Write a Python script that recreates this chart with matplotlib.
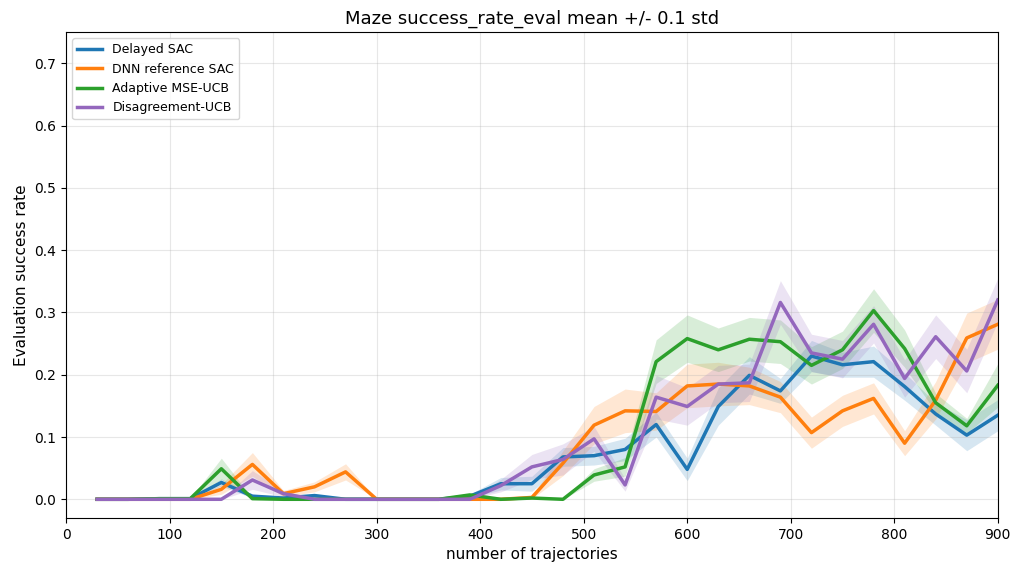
import numpy as np
import matplotlib.pyplot as plt

trajectories = np.arange(30, 901, 30)

delayed_mean = [0, 0, 0.001, 0.001, 0.027, 0.005, 0.002, 0.006, 0, 0, 0, 0, 0.005, 0.025, 0.025,
                0.068, 0.070, 0.080, 0.120, 0.048, 0.149, 0.199, 0.174, 0.230, 0.216, 0.221, 0.181,
                0.137, 0.103, 0.135]
delayed_std = [0, 0, 0, 0, 0.006, 0.003, 0.002, 0.003, 0, 0, 0, 0, 0.003, 0.010, 0.012,
               0.015, 0.015, 0.018, 0.020, 0.018, 0.030, 0.030, 0.020, 0.025, 0.020, 0.025, 0.022,
               0.018, 0.025, 0.025]

dnn_mean = [0, 0, 0, 0, 0.016, 0.056, 0.009, 0.020, 0.044, 0, 0, 0, 0, 0, 0.003,
            0.058, 0.119, 0.142, 0.141, 0.182, 0.185, 0.182, 0.164, 0.107, 0.142, 0.162, 0.090,
            0.159, 0.259, 0.281]
dnn_std = [0, 0, 0, 0, 0.008, 0.019, 0.005, 0.008, 0.013, 0, 0, 0, 0, 0, 0.002,
           0.020, 0.030, 0.035, 0.030, 0.035, 0.035, 0.030, 0.025, 0.025, 0.025, 0.025, 0.020,
           0.030, 0.040, 0.040]

mse_mean = [0, 0, 0.001, 0.001, 0.049, 0.001, 0, 0, 0, 0, 0, 0, 0.007, 0, 0.002,
            0, 0.039, 0.052, 0.221, 0.258, 0.240, 0.257, 0.253, 0.215, 0.240, 0.303, 0.242,
            0.155, 0.118, 0.183]
mse_std = [0, 0, 0, 0, 0.017, 0.001, 0, 0, 0, 0, 0, 0, 0.002, 0, 0.001,
           0, 0.010, 0.015, 0.035, 0.038, 0.035, 0.035, 0.035, 0.030, 0.030, 0.035, 0.030,
           0.015, 0.012, 0.035]

dis_mean = [0, 0, 0, 0, 0, 0.031, 0.009, 0, 0, 0, 0, 0, 0, 0.022, 0.052,
            0.064, 0.097, 0.023, 0.164, 0.149, 0.185, 0.187, 0.316, 0.235, 0.225, 0.281, 0.194,
            0.261, 0.206, 0.320]
dis_std = [0, 0, 0, 0, 0, 0.015, 0.005, 0, 0, 0, 0, 0, 0, 0.010, 0.020,
           0.025, 0.020, 0.010, 0.035, 0.030, 0.030, 0.030, 0.035, 0.030, 0.030, 0.030, 0.030,
           0.035, 0.035, 0.035]

series = [("Delayed SAC", delayed_mean, delayed_std, "tab:blue"),
          ("DNN reference SAC", dnn_mean, dnn_std, "tab:orange"),
          ("Adaptive MSE-UCB", mse_mean, mse_std, "tab:green"),
          ("Disagreement-UCB", dis_mean, dis_std, "tab:purple")]

fig = plt.figure(figsize=(10.13, 5.64), dpi=100)
ax = fig.add_axes([0.0652, 0.0816, 0.9198, 0.8614])
for name, m, s, c in series:
    m = np.array(m)
    s = np.array(s)
    ax.plot(trajectories, m, color=c, lw=2.5, label=name)
    ax.fill_between(trajectories, m - s, m + s, color=c, alpha=0.18, lw=0)

ax.set_xlim(0, 900)
ax.set_ylim(-0.03, 0.75)
ax.set_yticks(np.arange(0, 0.71, 0.1))
ax.grid(True, alpha=0.3)
ax.set_xlabel("number of trajectories", fontsize=11)
ax.set_ylabel("Evaluation success rate", fontsize=11)
ax.set_title("Maze success_rate_eval mean +/- 0.1 std", fontsize=13)
ax.legend(loc="upper left", fontsize=9)
fig.savefig("out.png", dpi=100)
